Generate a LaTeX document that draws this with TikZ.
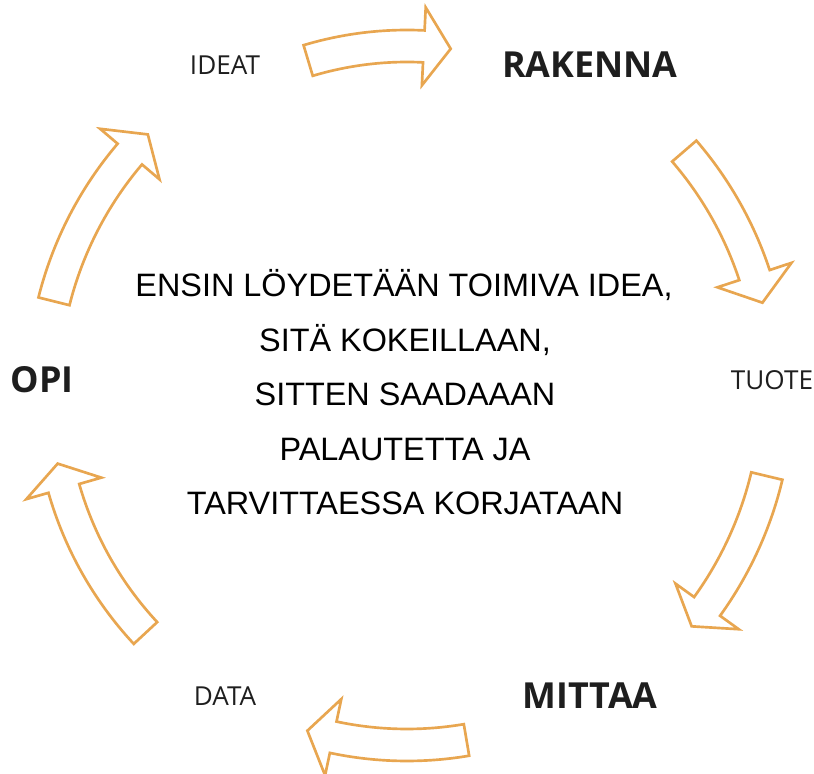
\documentclass[tikz,border=0pt]{standalone}
\usepackage{fontspec}
\setmainfont{Liberation Sans}
\newfontfamily\labelfont{Open Sans}
\definecolor{arroworange}{RGB}{232,166,80}
\definecolor{labelgray}{RGB}{30,30,30}
\tikzset{
  arrowline/.style={draw=arroworange, line width=2pt, fill=white, line join=miter},
  lab/.style={anchor=base, inner sep=0pt, text=labelgray, font=\labelfont\fontsize{19.6}{23}\selectfont},
  blab/.style={anchor=base, inner sep=0pt, text=labelgray, font=\labelfont\bfseries\fontsize{26.9}{31}\selectfont},
  mid/.style={anchor=base, inner sep=0pt, text=black, font=\fontsize{24.3}{29}\selectfont},
}
% #1 tail angle, #2 head base angle, #3 tip angle, #4 radius
\newcommand\cyarrow[4]{%
  \pgfmathsetmacro\cyro{#4+16}%
  \pgfmathsetmacro\cyri{#4-16}%
  \pgfmathsetmacro\cywo{#4+39}%
  \pgfmathsetmacro\cywi{#4-39}%
  \draw[arrowline] (#1:\cyro) arc[start angle=#1, end angle=#2, radius=\cyro]
    -- (#2:\cywo) -- (#3:#4) -- (#2:\cywi) -- (#2:\cyri)
    arc[start angle=#2, end angle=#1, radius=\cyri] -- cycle;}
\begin{document}
\begin{tikzpicture}[x=0.75pt, y=0.75pt]
\useasboundingbox (0,0) rectangle (814,774);
\begin{scope}[shift={(407,384)}]
  \cyarrow{106.7}{87.2}{82.7}{344}
  \cyarrow{40.75}{18.3}{13.8}{366}
  \cyarrow{-13.45}{-35.8}{-39.7}{370}
  \cyarrow{-80.35}{-102}{-106.3}{355}
  \cyarrow{-137.1}{-164}{-168.1}{357}
  \cyarrow{165.9}{139.6}{135.4}{364}
\end{scope}
\node[lab]  (ideat)   at (225,699) {IDEAT};
\node[blab] (rakenna) at (590,696) {RAKENNA};
\node[lab]  (tuote)   at (772,384) {TUOTE};
\node[blab] (mittaa)  at (590,65)  {MITTAA};
\node[lab]  (data)    at (225,68)  {DATA};
\node[blab] (opi)     at (42,381)  {OPI};
\node[mid] (l1) at (404,477)   {ENSIN LÖYDETÄÄN TOIMIVA IDEA,};
\node[mid] (l2) at (405,422.5) {SITÄ KOKEILLAAN,};
\node[mid] (l3) at (405,368)   {SITTEN SAADAAAN};
\node[mid] (l4) at (405,313.5) {PALAUTETTA JA};
\node[mid] (l5) at (405,259)   {TARVITTAESSA KORJATAAN};
\end{tikzpicture}
\end{document}
